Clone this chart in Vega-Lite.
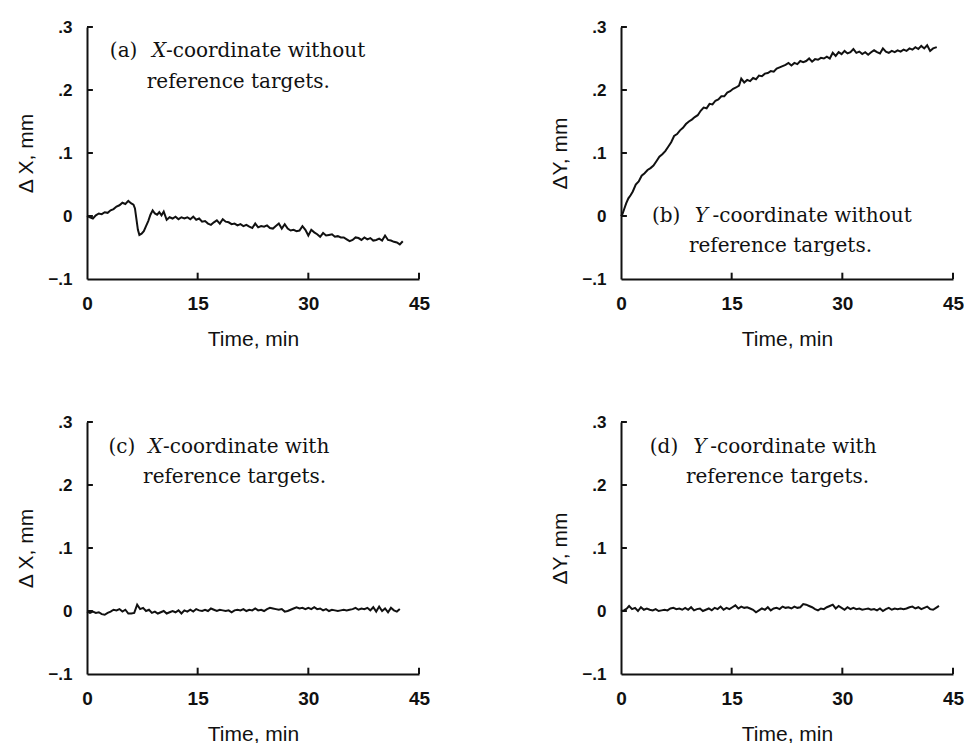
{
"$schema":"https://vega.github.io/schema/vega-lite/v6.json",
"background":"white",
"padding":{"left":15,"top":18,"right":0,"bottom":0},
"datasets":{
"a":[{"t":0,"v":0},{"t":0.4,"v":-0.002},{"t":0.8,"v":-0.004},{"t":1.2,"v":0.001},{"t":1.6,"v":0.004},{"t":2.0,"v":0.003},{"t":2.4,"v":0.006},{"t":2.8,"v":0.005},{"t":3.2,"v":0.009},{"t":3.6,"v":0.011},{"t":4.0,"v":0.015},{"t":4.4,"v":0.017},{"t":4.8,"v":0.021},{"t":5.2,"v":0.019},{"t":5.6,"v":0.024},{"t":6.0,"v":0.02},{"t":6.3,"v":0.018},{"t":6.5,"v":0.012},{"t":6.7,"v":-0.005},{"t":6.9,"v":-0.022},{"t":7.1,"v":-0.03},{"t":7.4,"v":-0.028},{"t":7.7,"v":-0.024},{"t":8.0,"v":-0.016},{"t":8.3,"v":-0.008},{"t":8.6,"v":0.002},{"t":8.9,"v":0.009},{"t":9.2,"v":0.004},{"t":9.5,"v":0.002},{"t":9.8,"v":0.006},{"t":10.1,"v":0.001},{"t":10.4,"v":0.007},{"t":10.8,"v":-0.006},{"t":11.2,"v":-0.002},{"t":11.6,"v":-0.004},{"t":12.0,"v":-0.001},{"t":12.4,"v":-0.005},{"t":12.8,"v":-0.002},{"t":13.2,"v":-0.004},{"t":13.6,"v":-0.002},{"t":14.0,"v":-0.005},{"t":14.4,"v":-0.001},{"t":14.8,"v":-0.006},{"t":15.2,"v":-0.004},{"t":15.6,"v":-0.009},{"t":16.0,"v":-0.008},{"t":16.4,"v":-0.012},{"t":16.8,"v":-0.014},{"t":17.2,"v":-0.01},{"t":17.6,"v":-0.007},{"t":18.0,"v":-0.012},{"t":18.4,"v":-0.005},{"t":18.8,"v":-0.009},{"t":19.2,"v":-0.01},{"t":19.6,"v":-0.013},{"t":20.0,"v":-0.012},{"t":20.4,"v":-0.015},{"t":20.8,"v":-0.013},{"t":21.2,"v":-0.016},{"t":21.6,"v":-0.014},{"t":22.0,"v":-0.017},{"t":22.4,"v":-0.019},{"t":22.8,"v":-0.012},{"t":23.2,"v":-0.018},{"t":23.6,"v":-0.016},{"t":24.0,"v":-0.017},{"t":24.4,"v":-0.015},{"t":24.8,"v":-0.019},{"t":25.2,"v":-0.02},{"t":25.6,"v":-0.016},{"t":26.0,"v":-0.012},{"t":26.4,"v":-0.02},{"t":26.8,"v":-0.013},{"t":27.2,"v":-0.02},{"t":27.6,"v":-0.023},{"t":28.0,"v":-0.022},{"t":28.4,"v":-0.024},{"t":28.8,"v":-0.023},{"t":29.2,"v":-0.016},{"t":29.6,"v":-0.022},{"t":30.0,"v":-0.031},{"t":30.4,"v":-0.022},{"t":30.8,"v":-0.026},{"t":31.2,"v":-0.029},{"t":31.6,"v":-0.033},{"t":32.0,"v":-0.027},{"t":32.4,"v":-0.031},{"t":32.8,"v":-0.03},{"t":33.2,"v":-0.029},{"t":33.6,"v":-0.033},{"t":34.0,"v":-0.032},{"t":34.4,"v":-0.034},{"t":34.8,"v":-0.034},{"t":35.2,"v":-0.037},{"t":35.6,"v":-0.04},{"t":36.0,"v":-0.038},{"t":36.4,"v":-0.034},{"t":36.8,"v":-0.035},{"t":37.2,"v":-0.038},{"t":37.6,"v":-0.034},{"t":38.0,"v":-0.037},{"t":38.4,"v":-0.035},{"t":38.8,"v":-0.039},{"t":39.2,"v":-0.038},{"t":39.6,"v":-0.036},{"t":40.0,"v":-0.039},{"t":40.4,"v":-0.031},{"t":40.8,"v":-0.038},{"t":41.2,"v":-0.039},{"t":41.6,"v":-0.041},{"t":42.0,"v":-0.042},{"t":42.4,"v":-0.045},{"t":42.8,"v":-0.04}],
"b":[{"t":0,"v":0},{"t":0.2,"v":0.003},{"t":0.4,"v":0.01},{"t":0.7,"v":0.02},{"t":1.0,"v":0.028},{"t":1.3,"v":0.033},{"t":1.6,"v":0.039},{"t":2.0,"v":0.05},{"t":2.4,"v":0.055},{"t":2.8,"v":0.064},{"t":3.2,"v":0.068},{"t":3.6,"v":0.073},{"t":4.0,"v":0.076},{"t":4.4,"v":0.08},{"t":4.8,"v":0.087},{"t":5.2,"v":0.094},{"t":5.6,"v":0.098},{"t":6.0,"v":0.103},{"t":6.4,"v":0.11},{"t":6.8,"v":0.117},{"t":7.2,"v":0.127},{"t":7.6,"v":0.13},{"t":8.0,"v":0.136},{"t":8.4,"v":0.14},{"t":8.8,"v":0.146},{"t":9.2,"v":0.15},{"t":9.6,"v":0.153},{"t":10.0,"v":0.157},{"t":10.4,"v":0.16},{"t":10.8,"v":0.167},{"t":11.2,"v":0.172},{"t":11.6,"v":0.171},{"t":12.0,"v":0.178},{"t":12.4,"v":0.177},{"t":12.8,"v":0.183},{"t":13.2,"v":0.185},{"t":13.6,"v":0.19},{"t":14.0,"v":0.19},{"t":14.4,"v":0.196},{"t":14.8,"v":0.198},{"t":15.2,"v":0.202},{"t":15.6,"v":0.204},{"t":16.0,"v":0.207},{"t":16.3,"v":0.218},{"t":16.7,"v":0.212},{"t":17.1,"v":0.216},{"t":17.5,"v":0.214},{"t":17.9,"v":0.219},{"t":18.3,"v":0.217},{"t":18.7,"v":0.223},{"t":19.1,"v":0.222},{"t":19.5,"v":0.226},{"t":19.9,"v":0.227},{"t":20.3,"v":0.23},{"t":20.7,"v":0.229},{"t":21.1,"v":0.234},{"t":21.5,"v":0.236},{"t":21.9,"v":0.238},{"t":22.3,"v":0.24},{"t":22.7,"v":0.243},{"t":23.1,"v":0.239},{"t":23.5,"v":0.243},{"t":23.9,"v":0.241},{"t":24.3,"v":0.246},{"t":24.7,"v":0.244},{"t":25.1,"v":0.246},{"t":25.5,"v":0.25},{"t":25.9,"v":0.245},{"t":26.3,"v":0.249},{"t":26.7,"v":0.248},{"t":27.1,"v":0.251},{"t":27.5,"v":0.25},{"t":27.9,"v":0.253},{"t":28.3,"v":0.25},{"t":28.7,"v":0.259},{"t":29.1,"v":0.254},{"t":29.5,"v":0.26},{"t":29.9,"v":0.257},{"t":30.3,"v":0.262},{"t":30.7,"v":0.258},{"t":31.1,"v":0.26},{"t":31.5,"v":0.265},{"t":31.9,"v":0.259},{"t":32.3,"v":0.261},{"t":32.7,"v":0.257},{"t":33.1,"v":0.26},{"t":33.5,"v":0.256},{"t":33.9,"v":0.26},{"t":34.3,"v":0.263},{"t":34.7,"v":0.26},{"t":35.1,"v":0.258},{"t":35.5,"v":0.266},{"t":35.9,"v":0.261},{"t":36.3,"v":0.259},{"t":36.7,"v":0.262},{"t":37.1,"v":0.26},{"t":37.5,"v":0.263},{"t":37.9,"v":0.261},{"t":38.3,"v":0.264},{"t":38.7,"v":0.262},{"t":39.1,"v":0.266},{"t":39.5,"v":0.264},{"t":39.9,"v":0.268},{"t":40.3,"v":0.265},{"t":40.7,"v":0.27},{"t":41.1,"v":0.266},{"t":41.5,"v":0.271},{"t":41.9,"v":0.262},{"t":42.3,"v":0.266},{"t":42.8,"v":0.268}],
"c":[{"t":0,"v":-0.001},{"t":0.4,"v":-0.003},{"t":0.8,"v":-0.001},{"t":1.2,"v":-0.003},{"t":1.6,"v":-0.002},{"t":2.0,"v":-0.005},{"t":2.4,"v":-0.006},{"t":2.8,"v":-0.003},{"t":3.2,"v":-0.001},{"t":3.6,"v":0.002},{"t":4.0,"v":0.001},{"t":4.4,"v":0.003},{"t":4.8,"v":-0.001},{"t":5.2,"v":0.002},{"t":5.6,"v":-0.004},{"t":6.0,"v":-0.004},{"t":6.4,"v":-0.003},{"t":6.8,"v":0.01},{"t":7.2,"v":0.003},{"t":7.6,"v":0.005},{"t":8.0,"v":0},{"t":8.4,"v":0.002},{"t":8.8,"v":-0.003},{"t":9.2,"v":-0.001},{"t":9.6,"v":-0.004},{"t":10.0,"v":-0.002},{"t":10.4,"v":0},{"t":10.8,"v":-0.004},{"t":11.2,"v":-0.002},{"t":11.6,"v":0},{"t":12.0,"v":-0.002},{"t":12.4,"v":0.001},{"t":12.8,"v":-0.004},{"t":13.2,"v":0.001},{"t":13.6,"v":-0.001},{"t":14.0,"v":0.002},{"t":14.4,"v":-0.001},{"t":14.8,"v":0.003},{"t":15.2,"v":0.001},{"t":15.6,"v":0},{"t":16.0,"v":0.002},{"t":16.4,"v":0},{"t":16.8,"v":0.004},{"t":17.2,"v":0.002},{"t":17.6,"v":0},{"t":18.0,"v":0.002},{"t":18.4,"v":0.001},{"t":18.8,"v":0},{"t":19.2,"v":0.001},{"t":19.6,"v":-0.002},{"t":20.0,"v":0.001},{"t":20.4,"v":0.002},{"t":20.8,"v":0.001},{"t":21.2,"v":0.003},{"t":21.6,"v":0},{"t":22.0,"v":0.002},{"t":22.4,"v":0.001},{"t":22.8,"v":0.004},{"t":23.2,"v":0.001},{"t":23.6,"v":0.002},{"t":24.0,"v":0},{"t":24.4,"v":0.003},{"t":24.8,"v":0.005},{"t":25.2,"v":0.004},{"t":25.6,"v":0.003},{"t":26.0,"v":0.002},{"t":26.4,"v":0.003},{"t":26.8,"v":-0.001},{"t":27.2,"v":0},{"t":27.6,"v":0.002},{"t":28.0,"v":0.004},{"t":28.4,"v":0.006},{"t":28.8,"v":0.004},{"t":29.2,"v":0.005},{"t":29.6,"v":0.003},{"t":30.0,"v":0.005},{"t":30.4,"v":0.003},{"t":30.8,"v":0.006},{"t":31.2,"v":0.003},{"t":31.6,"v":0.004},{"t":32.0,"v":0.001},{"t":32.4,"v":0.003},{"t":32.8,"v":0},{"t":33.2,"v":0.002},{"t":33.6,"v":0.001},{"t":34.0,"v":0},{"t":34.4,"v":0.001},{"t":34.8,"v":0.002},{"t":35.2,"v":0.001},{"t":35.6,"v":0.002},{"t":36.0,"v":0.003},{"t":36.4,"v":0.005},{"t":36.8,"v":0.002},{"t":37.2,"v":0.004},{"t":37.6,"v":0.003},{"t":38.0,"v":0.005},{"t":38.4,"v":0.001},{"t":38.8,"v":0.006},{"t":39.2,"v":-0.001},{"t":39.6,"v":0.007},{"t":40.0,"v":0},{"t":40.4,"v":0.004},{"t":40.8,"v":-0.002},{"t":41.2,"v":0.005},{"t":41.6,"v":0.001},{"t":42.0,"v":-0.001},{"t":42.4,"v":0.003}],
"d":[{"t":0,"v":0},{"t":0.4,"v":0.001},{"t":0.8,"v":0.004},{"t":1.1,"v":0.008},{"t":1.5,"v":0.003},{"t":1.9,"v":0.005},{"t":2.3,"v":0},{"t":2.7,"v":0.006},{"t":3.1,"v":0.002},{"t":3.5,"v":0.004},{"t":3.9,"v":0.002},{"t":4.3,"v":0.001},{"t":4.7,"v":0.003},{"t":5.1,"v":0},{"t":5.5,"v":0.001},{"t":5.9,"v":0.002},{"t":6.3,"v":0.001},{"t":6.7,"v":0.004},{"t":7.1,"v":0.005},{"t":7.5,"v":0.003},{"t":7.9,"v":0.004},{"t":8.3,"v":0.002},{"t":8.7,"v":0.005},{"t":9.1,"v":0.002},{"t":9.5,"v":0.006},{"t":9.9,"v":0.001},{"t":10.3,"v":0.003},{"t":10.7,"v":0.004},{"t":11.1,"v":0},{"t":11.5,"v":0.002},{"t":11.9,"v":0.004},{"t":12.3,"v":0.001},{"t":12.7,"v":0.005},{"t":13.1,"v":0.003},{"t":13.5,"v":0.007},{"t":13.9,"v":0.002},{"t":14.3,"v":0.005},{"t":14.7,"v":0.003},{"t":15.1,"v":0.006},{"t":15.5,"v":0.009},{"t":15.9,"v":0.004},{"t":16.3,"v":0.007},{"t":16.7,"v":0.005},{"t":17.1,"v":0.006},{"t":17.5,"v":0.004},{"t":17.9,"v":0.002},{"t":18.3,"v":-0.002},{"t":18.7,"v":0.001},{"t":19.1,"v":0.004},{"t":19.5,"v":0.002},{"t":19.9,"v":0.006},{"t":20.3,"v":0.001},{"t":20.7,"v":0.004},{"t":21.1,"v":0.005},{"t":21.5,"v":0.003},{"t":21.9,"v":0.007},{"t":22.3,"v":0.005},{"t":22.7,"v":0.006},{"t":23.1,"v":0.004},{"t":23.5,"v":0.007},{"t":23.9,"v":0.005},{"t":24.3,"v":0.006},{"t":24.7,"v":0.011},{"t":25.1,"v":0.01},{"t":25.5,"v":0.008},{"t":25.9,"v":0.006},{"t":26.3,"v":0.003},{"t":26.7,"v":0.001},{"t":27.1,"v":0.004},{"t":27.5,"v":0.003},{"t":27.9,"v":0.006},{"t":28.3,"v":0.008},{"t":28.7,"v":0.01},{"t":29.1,"v":0.004},{"t":29.5,"v":0.008},{"t":29.9,"v":0.005},{"t":30.3,"v":0.002},{"t":30.7,"v":0.006},{"t":31.1,"v":0.003},{"t":31.5,"v":0.005},{"t":31.9,"v":0.003},{"t":32.3,"v":0.004},{"t":32.7,"v":0.002},{"t":33.1,"v":0.003},{"t":33.5,"v":0.004},{"t":33.9,"v":0.002},{"t":34.3,"v":0.003},{"t":34.7,"v":0.001},{"t":35.1,"v":0.004},{"t":35.5,"v":0},{"t":35.9,"v":0.003},{"t":36.3,"v":0.005},{"t":36.7,"v":0.002},{"t":37.1,"v":0.004},{"t":37.5,"v":0.003},{"t":37.9,"v":0.004},{"t":38.3,"v":0.003},{"t":38.7,"v":0.004},{"t":39.1,"v":0.006},{"t":39.5,"v":0.007},{"t":39.9,"v":0.004},{"t":40.3,"v":0.006},{"t":40.7,"v":0.003},{"t":41.1,"v":0.005},{"t":41.5,"v":0.007},{"t":41.9,"v":0.003},{"t":42.3,"v":0.002},{"t":42.7,"v":0.005},{"t":43.1,"v":0.008}],
"xt":[{"t":15},{"t":30},{"t":45}],
"yt":[{"v":0},{"v":0.1},{"v":0.2},{"v":0.3}],
"a_txt":[{"t":3.1,"v":0.262,"s":"(a)"},{"t":10.7,"v":0.262,"s":"-coordinate without"},{"t":8.1,"v":0.213,"s":"reference targets."}],
"a_it":[{"t":8.8,"v":0.262,"s":"X"}],
"b_txt":[{"t":4.2,"v":0.0,"s":"(b)"},{"t":12.4,"v":0.0,"s":"-coordinate without"},{"t":9.2,"v":-0.048,"s":"reference targets."}],
"b_it":[{"t":10.0,"v":0.0,"s":"Y"}],
"c_txt":[{"t":2.9,"v":0.26,"s":"(c)"},{"t":10.3,"v":0.26,"s":"-coordinate with"},{"t":7.6,"v":0.213,"s":"reference targets."}],
"c_it":[{"t":8.3,"v":0.26,"s":"X"}],
"d_txt":[{"t":3.9,"v":0.26,"s":"(d)"},{"t":12.1,"v":0.26,"s":"-coordinate with"},{"t":8.8,"v":0.213,"s":"reference targets."}],
"d_it":[{"t":9.8,"v":0.26,"s":"Y"}]
},
"concat":[
  {"width":332,"height":252,"layer":[
   {"data":{"name":"a"},"mark":{"type":"line","color":"#111","strokeWidth":2},"encoding":{"x":{"field":"t","type":"quantitative","scale":{"domain":[0,45]},"axis":{"title":"Time, min","values":[0,15,30,45]}},"y":{"field":"v","type":"quantitative","scale":{"domain":[-0.1,0.3]},"axis":{"title":"Δ X, mm","values":[-0.1,0,0.1,0.2,0.3]}}}},
   {"data":{"name":"xt"},"mark":{"type":"rule","color":"#111","strokeWidth":2},"encoding":{"x":{"field":"t","type":"quantitative"},"y":{"datum":-0.1},"y2":{"datum":-0.09}}},
   {"data":{"name":"yt"},"mark":{"type":"rule","color":"#111","strokeWidth":2},"encoding":{"y":{"field":"v","type":"quantitative"},"x":{"datum":0},"x2":{"datum":0.8}}},
   {"data":{"name":"a_txt"},"mark":{"type":"text","font":"DejaVu Serif","fontSize":20,"align":"left","baseline":"middle","color":"#111"},"encoding":{"x":{"field":"t","type":"quantitative"},"y":{"field":"v","type":"quantitative"},"text":{"field":"s"}}},
   {"data":{"name":"a_it"},"mark":{"type":"text","font":"DejaVu Serif","fontStyle":"italic","fontSize":20,"align":"left","baseline":"middle","color":"#111"},"encoding":{"x":{"field":"t","type":"quantitative"},"y":{"field":"v","type":"quantitative"},"text":{"field":"s"}}}
  ]},
  {"width":332,"height":252,"layer":[
   {"data":{"name":"b"},"mark":{"type":"line","color":"#111","strokeWidth":2},"encoding":{"x":{"field":"t","type":"quantitative","scale":{"domain":[0,45]},"axis":{"title":"Time, min","values":[0,15,30,45]}},"y":{"field":"v","type":"quantitative","scale":{"domain":[-0.1,0.3]},"axis":{"title":"ΔY, mm","values":[-0.1,0,0.1,0.2,0.3]}}}},
   {"data":{"name":"xt"},"mark":{"type":"rule","color":"#111","strokeWidth":2},"encoding":{"x":{"field":"t","type":"quantitative"},"y":{"datum":-0.1},"y2":{"datum":-0.09}}},
   {"data":{"name":"yt"},"mark":{"type":"rule","color":"#111","strokeWidth":2},"encoding":{"y":{"field":"v","type":"quantitative"},"x":{"datum":0},"x2":{"datum":0.8}}},
   {"data":{"name":"b_txt"},"mark":{"type":"text","font":"DejaVu Serif","fontSize":20,"align":"left","baseline":"middle","color":"#111"},"encoding":{"x":{"field":"t","type":"quantitative"},"y":{"field":"v","type":"quantitative"},"text":{"field":"s"}}},
   {"data":{"name":"b_it"},"mark":{"type":"text","font":"DejaVu Serif","fontStyle":"italic","fontSize":20,"align":"left","baseline":"middle","color":"#111"},"encoding":{"x":{"field":"t","type":"quantitative"},"y":{"field":"v","type":"quantitative"},"text":{"field":"s"}}}
  ]},
  {"width":332,"height":252,"layer":[
   {"data":{"name":"c"},"mark":{"type":"line","color":"#111","strokeWidth":2},"encoding":{"x":{"field":"t","type":"quantitative","scale":{"domain":[0,45]},"axis":{"title":"Time, min","values":[0,15,30,45]}},"y":{"field":"v","type":"quantitative","scale":{"domain":[-0.1,0.3]},"axis":{"title":"Δ X, mm","values":[-0.1,0,0.1,0.2,0.3]}}}},
   {"data":{"name":"xt"},"mark":{"type":"rule","color":"#111","strokeWidth":2},"encoding":{"x":{"field":"t","type":"quantitative"},"y":{"datum":-0.1},"y2":{"datum":-0.09}}},
   {"data":{"name":"yt"},"mark":{"type":"rule","color":"#111","strokeWidth":2},"encoding":{"y":{"field":"v","type":"quantitative"},"x":{"datum":0},"x2":{"datum":0.8}}},
   {"data":{"name":"c_txt"},"mark":{"type":"text","font":"DejaVu Serif","fontSize":20,"align":"left","baseline":"middle","color":"#111"},"encoding":{"x":{"field":"t","type":"quantitative"},"y":{"field":"v","type":"quantitative"},"text":{"field":"s"}}},
   {"data":{"name":"c_it"},"mark":{"type":"text","font":"DejaVu Serif","fontStyle":"italic","fontSize":20,"align":"left","baseline":"middle","color":"#111"},"encoding":{"x":{"field":"t","type":"quantitative"},"y":{"field":"v","type":"quantitative"},"text":{"field":"s"}}}
  ]},
  {"width":332,"height":252,"layer":[
   {"data":{"name":"d"},"mark":{"type":"line","color":"#111","strokeWidth":2},"encoding":{"x":{"field":"t","type":"quantitative","scale":{"domain":[0,45]},"axis":{"title":"Time, min","values":[0,15,30,45]}},"y":{"field":"v","type":"quantitative","scale":{"domain":[-0.1,0.3]},"axis":{"title":"ΔY, mm","values":[-0.1,0,0.1,0.2,0.3]}}}},
   {"data":{"name":"xt"},"mark":{"type":"rule","color":"#111","strokeWidth":2},"encoding":{"x":{"field":"t","type":"quantitative"},"y":{"datum":-0.1},"y2":{"datum":-0.09}}},
   {"data":{"name":"yt"},"mark":{"type":"rule","color":"#111","strokeWidth":2},"encoding":{"y":{"field":"v","type":"quantitative"},"x":{"datum":0},"x2":{"datum":0.8}}},
   {"data":{"name":"d_txt"},"mark":{"type":"text","font":"DejaVu Serif","fontSize":20,"align":"left","baseline":"middle","color":"#111"},"encoding":{"x":{"field":"t","type":"quantitative"},"y":{"field":"v","type":"quantitative"},"text":{"field":"s"}}},
   {"data":{"name":"d_it"},"mark":{"type":"text","font":"DejaVu Serif","fontStyle":"italic","fontSize":20,"align":"left","baseline":"middle","color":"#111"},"encoding":{"x":{"field":"t","type":"quantitative"},"y":{"field":"v","type":"quantitative"},"text":{"field":"s"}}}
  ]}
],
"columns":2,
"spacing":{"row":143,"column":202},
"bounds":"flush",
"resolve":{"scale":{"x":"independent","y":"independent"}},
"config":{
 "view":{"stroke":null},
 "font":"Liberation Sans",
 "axis":{"grid":false,"ticks":false,"domainColor":"#111","domainWidth":2,"labelColor":"#111","labelFont":"Liberation Sans","labelFontWeight":"bold","titleColor":"#111","titleFont":"Liberation Sans","titleFontWeight":"normal","titleFontSize":21},
 "axisX":{"labelFontSize":19,"labelFlush":false,"labelPadding":15,"titlePadding":15},
 "axisY":{"labelFontSize":17,"labelPadding":15,"titlePadding":11,"labelExpr":"datum.value == 0 ? '0' : (datum.value < 0 ? '−.1' : replace(format(datum.value, '.1f'), '0.', '.'))"}
}
}
